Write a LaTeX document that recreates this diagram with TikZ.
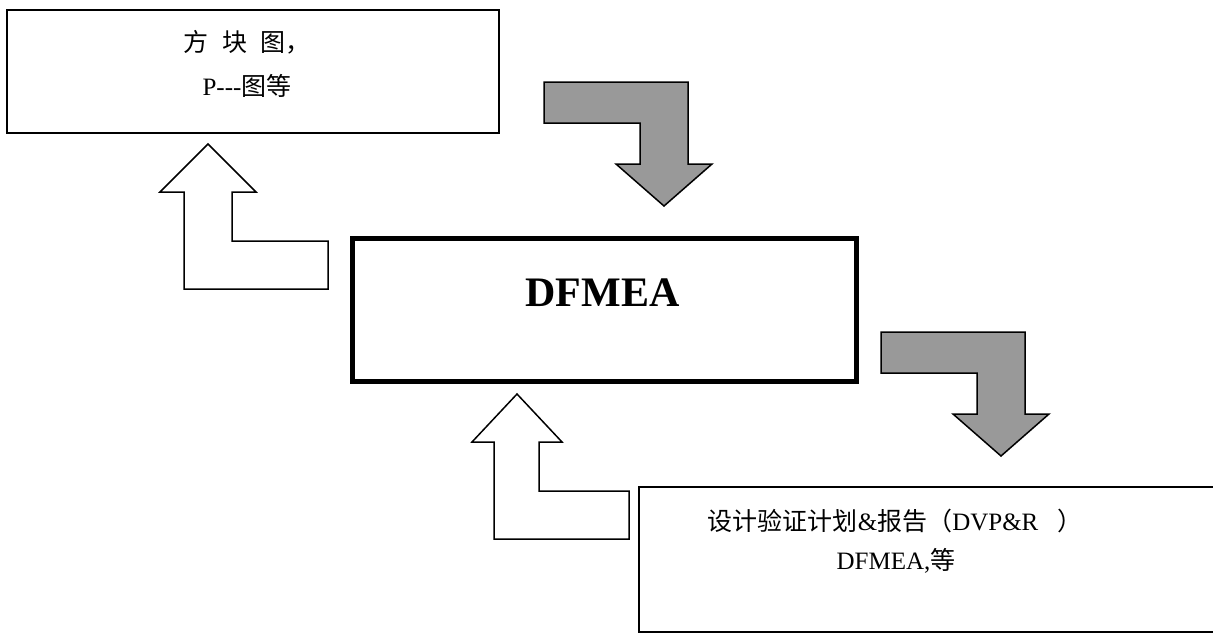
\documentclass[tikz,border=0pt]{standalone}
\usepackage{fontspec}
\setmainfont{Liberation Serif}
\newfontfamily\cjk{Noto Sans CJK SC}
\begin{document}
\begin{tikzpicture}[x=1pt,y=-1pt,
  box/.style={draw,line width=1.5pt,inner sep=0pt},
  txt/.style={anchor=base,inner sep=0pt,font=\fontsize{25}{30}\selectfont},
  openarrow/.style={draw,line width=1.5pt,fill=white,line join=miter},
  grayarrow/.style={draw,line width=1.5pt,fill=black!40,line join=miter}]
\useasboundingbox (0,0) rectangle (1213,633);
\node[box,minimum width=492,minimum height=123] (blk) at (253,71.5) {};
\node[txt] (blktop) at (247,51) {\cjk 方\hspace{.55em}块\hspace{.55em}图，};
\node[txt] (blkbot) at (247,95) {P{-}{-}{-}{\cjk 图等}};
\node[box,line width=5pt,minimum width=504,minimum height=143] (dfmea) at (604,309.5) {};
\node[txt,font=\fontsize{42}{50}\selectfont\bfseries] (dfmeatxt) at (602.5,306.7) {DFMEA};
% open on the right, runs off the page
\draw[line width=1.5pt] (1216,487)--(639,487)--(639,632)--(1216,632);
\node[txt] (dvptop) at (895,530) {{\cjk 设计验证计划}\&{\cjk 报告（}DVP\&R\ \ \ {\cjk ）}};
\node[txt] (dvpbot) at (896,569) {DFMEA,{\cjk 等}};
\draw[openarrow] (208,144)--(256,192)--(232,192)--(232,241)--(328,241)--(328,289)
--(184,289)--(184,192)--(160,192)--cycle;
\draw[grayarrow] (544,82)--(688,82)--(688,164)--(712,164)--(664,206)--(616,164)
--(640,164)--(640,123)--(544,123)--cycle;
\draw[grayarrow] (881,332)--(1025,332)--(1025,414)--(1049,414)--(1001,456)--(953,414)
--(977,414)--(977,373)--(881,373)--cycle;
\draw[openarrow] (517,394)--(562,442)--(539,442)--(539,491)--(629,491)--(629,539)
--(494,539)--(494,442)--(472,442)--cycle;
\end{tikzpicture}
\end{document}
